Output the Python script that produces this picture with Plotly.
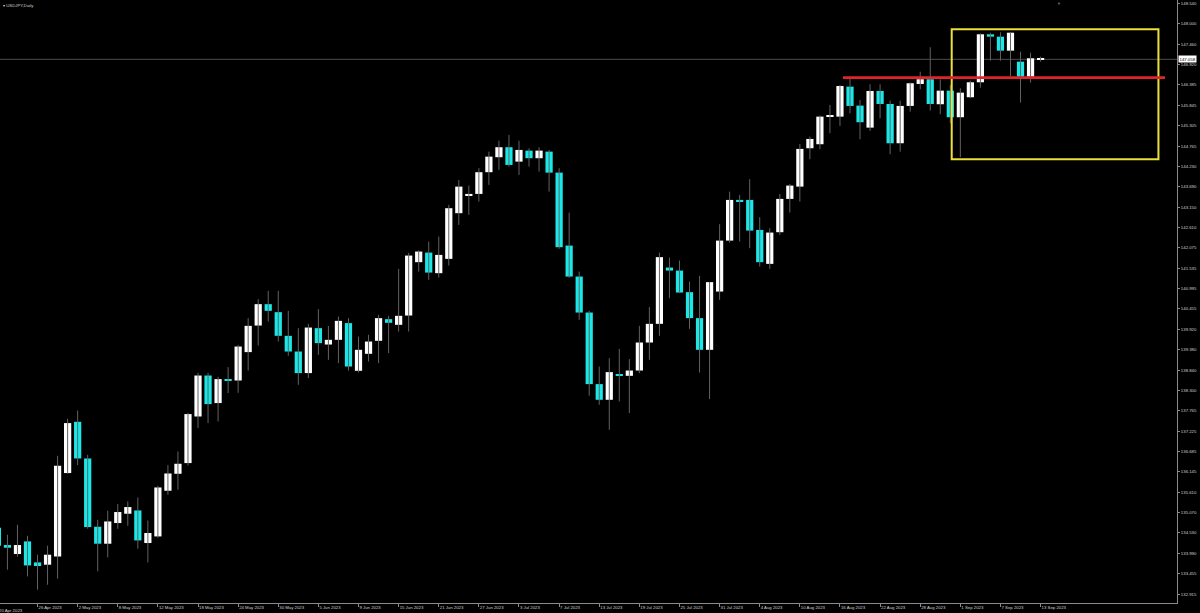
import plotly.graph_objects as go
import pandas as pd

# ---------------- data (USDJPY, Daily) ----------------
start_date = "2023-04-20"

open_ = [
    134.668, 134.210, 133.972, 134.306, 133.750, 133.690, 133.909, 136.114, 137.470, 136.500,
    134.694, 134.245, 134.792, 135.038, 135.125, 134.263, 134.438, 135.646, 136.095, 136.378,
    137.610, 138.694, 137.965, 138.594, 138.562, 139.313, 140.016, 140.582, 140.370, 139.744,
    139.329, 138.758, 139.947, 139.514, 139.638, 140.080, 138.819, 139.268, 139.612, 140.185,
    140.035, 140.281, 141.692, 141.946, 141.401, 141.780, 142.988, 143.464, 143.498, 144.072,
    144.468, 144.733, 144.352, 144.643, 144.442, 144.616, 144.061, 142.131, 141.312, 140.360,
    138.467, 138.052, 138.726, 138.686, 138.826, 139.567, 140.061, 141.550, 141.470, 140.899,
    140.212, 139.374, 140.915, 142.263, 143.339, 143.339, 142.546, 141.647, 142.485, 143.366,
    143.691, 144.706, 144.812, 145.542, 145.542, 146.335, 145.833, 145.251, 146.221, 145.877,
    144.838, 145.825, 146.406, 146.530, 145.870, 146.229, 145.526, 146.055, 146.451, 147.720,
    147.657, 147.287, 146.996, 146.599, 147.058,
]
high = [
    134.826, 134.483, 134.747, 134.456, 133.954, 134.192, 136.571, 137.549, 137.769, 136.598,
    134.879, 135.117, 135.294, 135.363, 135.469, 134.861, 135.778, 136.325, 136.685, 137.708,
    138.766, 138.766, 138.660, 138.916, 139.506, 140.212, 140.714, 140.934, 140.934, 140.405,
    139.947, 140.061, 140.450, 140.008, 140.254, 140.212, 139.725, 139.770, 140.299, 140.273,
    141.515, 141.938, 142.004, 142.237, 142.369, 143.207, 143.868, 143.718, 144.178, 144.616,
    144.907, 145.058, 144.907, 144.706, 144.733, 144.661, 144.178, 143.004, 141.444, 140.405,
    138.932, 139.154, 139.400, 139.128, 140.008, 140.503, 141.946, 141.814, 141.735, 141.179,
    141.330, 141.170, 142.697, 143.559, 143.472, 143.887, 142.882, 142.591, 143.498, 143.762,
    144.820, 145.013, 145.573, 145.851, 146.380, 146.557, 145.983, 146.398, 146.398, 145.965,
    145.965, 146.446, 146.731, 147.376, 146.530, 146.380, 146.293, 146.493, 147.747, 147.762,
    147.773, 147.781, 147.260, 147.234, 147.128,
]
low = [
    134.033, 133.557, 133.901, 133.380, 133.029, 133.161, 133.319, 136.095, 136.325, 134.641,
    133.513, 133.883, 134.641, 134.721, 134.113, 133.750, 134.403, 135.540, 135.672, 136.315,
    137.304, 137.436, 137.478, 138.229, 138.237, 138.826, 139.487, 140.122, 139.593, 139.215,
    138.448, 138.626, 139.242, 139.109, 139.022, 138.826, 138.774, 139.064, 139.022, 139.286,
    139.857, 139.857, 141.444, 141.224, 141.285, 141.602, 142.678, 142.943, 143.294, 143.736,
    144.133, 144.220, 144.000, 144.220, 144.088, 143.559, 142.044, 141.277, 140.167, 138.158,
    137.920, 137.259, 138.007, 137.700, 138.758, 139.109, 139.744, 140.741, 140.873, 139.929,
    138.774, 138.070, 140.696, 142.211, 142.237, 142.062, 141.576, 141.515, 142.414, 143.004,
    143.294, 144.415, 144.680, 145.103, 145.296, 145.632, 144.944, 145.164, 145.499, 144.548,
    144.616, 145.674, 146.266, 145.700, 145.605, 145.367, 144.468, 146.028, 146.308, 147.022,
    147.022, 146.618, 145.912, 146.441, 146.996,
]
close = [
    134.192, 134.139, 134.210, 133.671, 133.655, 133.954, 136.307, 137.436, 136.500, 134.686,
    134.245, 134.834, 135.083, 135.215, 134.332, 134.528, 135.733, 136.103, 136.360, 137.674,
    138.694, 137.938, 138.599, 138.567, 139.461, 140.008, 140.582, 140.405, 139.744, 139.329,
    138.758, 139.963, 139.551, 139.638, 140.140, 138.932, 139.374, 139.593, 140.212, 140.088,
    140.273, 141.867, 141.973, 141.417, 141.885, 143.120, 143.691, 143.498, 144.072, 144.484,
    144.733, 144.265, 144.661, 144.442, 144.643, 144.061, 142.089, 141.312, 140.360, 138.467,
    138.052, 138.784, 138.700, 138.826, 139.567, 140.061, 141.825, 141.470, 140.889, 140.212,
    139.374, 141.164, 142.263, 143.339, 143.294, 142.528, 141.692, 142.475, 143.366, 143.718,
    144.688, 144.952, 145.542, 145.568, 146.353, 145.825, 145.394, 146.221, 145.877, 144.838,
    145.825, 146.425, 146.530, 145.877, 146.229, 145.526, 146.176, 146.451, 147.720, 147.657,
    147.287, 147.762, 146.599, 147.086, 147.058,
]

price_ticks = [148.540, 148.000, 147.460, 146.920, 146.385, 145.845, 145.305, 144.765,
               144.230, 143.690, 143.150, 142.610, 142.075, 141.535, 140.995, 140.455,
               139.920, 139.380, 138.840, 138.300, 137.765, 137.225, 136.685, 136.145,
               135.610, 135.070, 134.530, 133.990, 133.455, 132.915]

current_price = 147.058
resistance_level = 146.573
box_top, box_bottom = 147.852, 144.416

# ---------------- derived ----------------
dates = pd.bdate_range(start_date, periods=len(open_))
idx = list(range(len(open_)))
date_tick_idx = idx[::4]
date_tick_text = [f"{d.day} {d.strftime('%b %Y')}" for d in dates[::4]]

MIN_BODY = 0.025
bull_x, bull_base, bull_h = [], [], []
bear_x, bear_base, bear_h = [], [], []
for i, o, c in zip(idx, open_, close):
    h = max(abs(c - o), MIN_BODY)
    if c >= o:
        bull_x.append(i); bull_base.append(min(o, c)); bull_h.append(h)
    else:
        bear_x.append(i); bear_base.append(min(o, c)); bear_h.append(h)

wick_x, wick_y = [], []
for i, lo, hi in zip(idx, low, high):
    wick_x += [i, i, None]
    wick_y += [lo, hi, None]

AXIS_GRAY = "#8a8a8a"
TEXT_GRAY = "#d2d2d2"
FONT = "Liberation Sans"
FS = 4.3

fig = go.Figure()
fig.add_trace(go.Scatter(x=wick_x, y=wick_y, mode="lines",
                         line=dict(color="#626262", width=1), hoverinfo="skip"))
fig.add_trace(go.Bar(x=bull_x, y=bull_h, base=bull_base, width=0.72,
                     marker=dict(color="#ffffff", line=dict(width=0))))
fig.add_trace(go.Bar(x=bear_x, y=bear_h, base=bear_base, width=0.72,
                     marker=dict(color="#18e8e8", line=dict(width=0))))

x_lo = 0.259
x_hi = 117.6

fig.update_layout(
    width=1200, height=613,
    paper_bgcolor="#000000", plot_bgcolor="#000000",
    margin=dict(l=0, r=23, t=0, b=10),
    showlegend=False, barmode="overlay",
    font=dict(family=FONT, size=FS, color=TEXT_GRAY),
    xaxis=dict(range=[x_lo, x_hi], showgrid=False, zeroline=False,
               showline=True, linecolor=AXIS_GRAY, linewidth=1,
               ticks="outside", ticklen=3, tickcolor=AXIS_GRAY, tickwidth=1,
               tickvals=date_tick_idx, ticktext=date_tick_text,
               ticklabelposition="outside right",
               tickfont=dict(family=FONT, size=FS, color=TEXT_GRAY)),
    yaxis=dict(range=[132.677, 148.627], side="right", showgrid=False, zeroline=False,
               showline=True, linecolor=AXIS_GRAY, linewidth=1,
               ticks="outside", ticklen=2, tickcolor=AXIS_GRAY, tickwidth=1,
               tickvals=price_ticks, ticktext=[f"{v:.3f}" for v in price_ticks],
               tickfont=dict(family=FONT, size=FS, color=TEXT_GRAY)),
)

# current price line
fig.add_shape(type="line", xref="paper", yref="y", x0=0, x1=1,
              y0=current_price, y1=current_price,
              line=dict(color="#4c4c4c", width=1), layer="below")
# yellow box
fig.add_shape(type="rect", xref="x", yref="y", x0=95.14, x1=115.75,
              y0=box_bottom, y1=box_top, line=dict(color="#ece03a", width=2),
              fillcolor="rgba(0,0,0,0)")
# red level line
fig.add_shape(type="line", xref="x", yref="y", x0=84.3, x1=116.4,
              y0=resistance_level, y1=resistance_level,
              line=dict(color="#e0242a", width=2.6))

# price tag
fig.add_annotation(xref="paper", yref="y", x=1, y=current_price, xanchor="left",
                   yanchor="middle", xshift=1, text=f"{current_price:.3f}",
                   showarrow=False, bgcolor="#ffffff", borderpad=0.5,
                   font=dict(family=FONT, size=FS, color="#000000"))
# first date label, partly cut at the left edge (as in the reference)
fig.add_annotation(xref="paper", yref="paper", x=0, y=0, xanchor="left", yanchor="top",
                   xshift=-3, yshift=-3, text=date_tick_text[0], showarrow=False,
                   font=dict(family=FONT, size=FS, color=TEXT_GRAY))
# title
fig.add_annotation(xref="paper", yref="paper", x=0, y=1, xanchor="left", yanchor="top",
                   xshift=1, yshift=-1, text="▾ USDJPY,Daily", showarrow=False,
                   font=dict(family=FONT, size=FS, color=TEXT_GRAY))
# chart-shift marker
fig.add_annotation(xref="x", yref="paper", x=105.8, y=1, yanchor="top", yshift=1,
                   text="▼", showarrow=False,
                   font=dict(family=FONT, size=4, color="#7a7a7a"))

fig.write_html("out.html", post_script="document.body.style.margin='0';",
               config={"displayModeBar": False})
